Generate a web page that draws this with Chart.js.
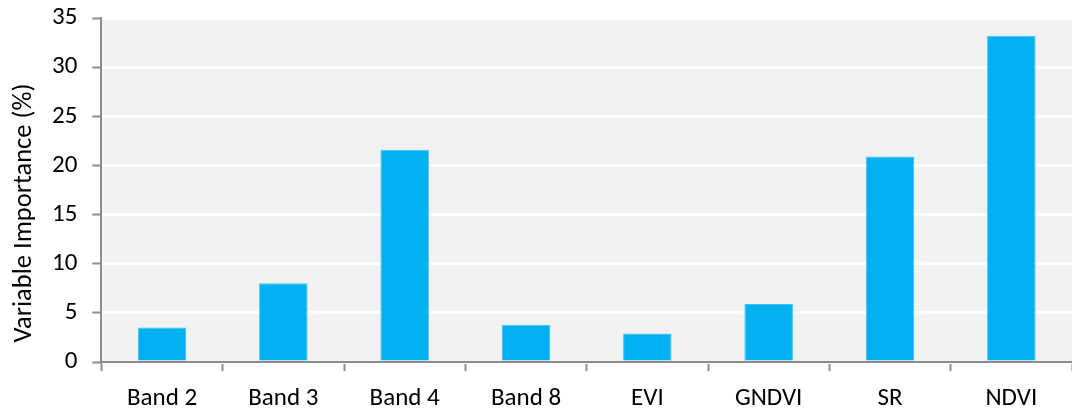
<!DOCTYPE html>
<html lang="en">
<head>
    <meta charset="UTF-8">
    <title>Variable Importance</title>
    <script src="https://cdn.jsdelivr.net/npm/chart.js"></script>
    <style>
        body {
            margin: 0;
            background: #fff;
            overflow: hidden;
        }
        .chart-container {
            width: 1072px;
            height: 429px;
            margin-top: -12px;
        }
    </style>
</head>
<body>
    <div class="chart-container">
        <canvas id="importanceChart"></canvas>
    </div>

    <script>
        // data
        const categories = ['Band 2', 'Band 3', 'Band 4', 'Band 8', 'EVI', 'GNDVI', 'SR', 'NDVI'];
        const importance = [3.5, 8.0, 21.6, 3.8, 2.9, 5.9, 20.9, 33.2];
        const yTicks = [0, 5, 10, 15, 20, 25, 30, 35];
        const yTitle = 'Variable Importance (%)';

        const fontFamily = "Carlito, 'Open Sans', 'Liberation Sans', sans-serif";

        // grey plot area behind the bars
        const plotBackground = {
            id: 'plotBackground',
            beforeDraw(chart) {
                const { ctx, chartArea } = chart;
                ctx.save();
                ctx.fillStyle = '#f2f2f2';
                ctx.fillRect(chartArea.left, chartArea.top + 2, chartArea.width, chartArea.height - 2);
                ctx.restore();
            }
        };

        // y axis title sits a bit lower than the plot centre in the original
        const axisTitle = {
            id: 'axisTitle',
            afterDraw(chart) {
                const { ctx } = chart;
                ctx.save();
                ctx.translate(24, 225);
                ctx.rotate(-Math.PI / 2);
                ctx.font = `26.5px ${fontFamily}`;
                ctx.fillStyle = '#000';
                ctx.textAlign = 'center';
                ctx.textBaseline = 'middle';
                ctx.fillText(yTitle, 0, 0);
                ctx.restore();
            }
        };

        const ctx = document.getElementById('importanceChart').getContext('2d');
        new Chart(ctx, {
            type: 'bar',
            data: {
                labels: categories,
                datasets: [{
                    label: yTitle,
                    data: importance,
                    backgroundColor: '#00b0f0',
                    borderColor: '#3fc4f2',
                    borderWidth: 1,
                    barPercentage: 0.4,
                    categoryPercentage: 1
                }]
            },
            options: {
                responsive: true,
                maintainAspectRatio: false,
                animation: false,
                layout: {
                    padding: { top: -9, right: 0, left: 37, bottom: -10 }
                },
                plugins: {
                    legend: { display: false },
                    tooltip: { enabled: false }
                },
                scales: {
                    x: {
                        grid: {
                            offset: true,
                            drawOnChartArea: false,
                            tickLength: 9,
                            tickColor: '#8c8c8c',
                            tickWidth: 2
                        },
                        border: { color: '#8c8c8c', width: 2 },
                        ticks: {
                            color: '#000',
                            padding: 13,
                            font: { family: fontFamily, size: 25 }
                        }
                    },
                    y: {
                        min: 0,
                        max: 35,
                        afterBuildTicks(axis) {
                            axis.ticks = yTicks.map(v => ({ value: v }));
                        },
                        grid: {
                            color: '#ffffff',
                            lineWidth: 3,
                            tickLength: 9,
                            tickColor: '#8c8c8c',
                            tickWidth: 2
                        },
                        border: { color: '#8c8c8c', width: 2 },
                        ticks: {
                            color: '#000',
                            padding: 15,
                            font: { family: fontFamily, size: 25 }
                        }
                    }
                }
            },
            plugins: [plotBackground, axisTitle]
        });
    </script>
</body>
</html>
